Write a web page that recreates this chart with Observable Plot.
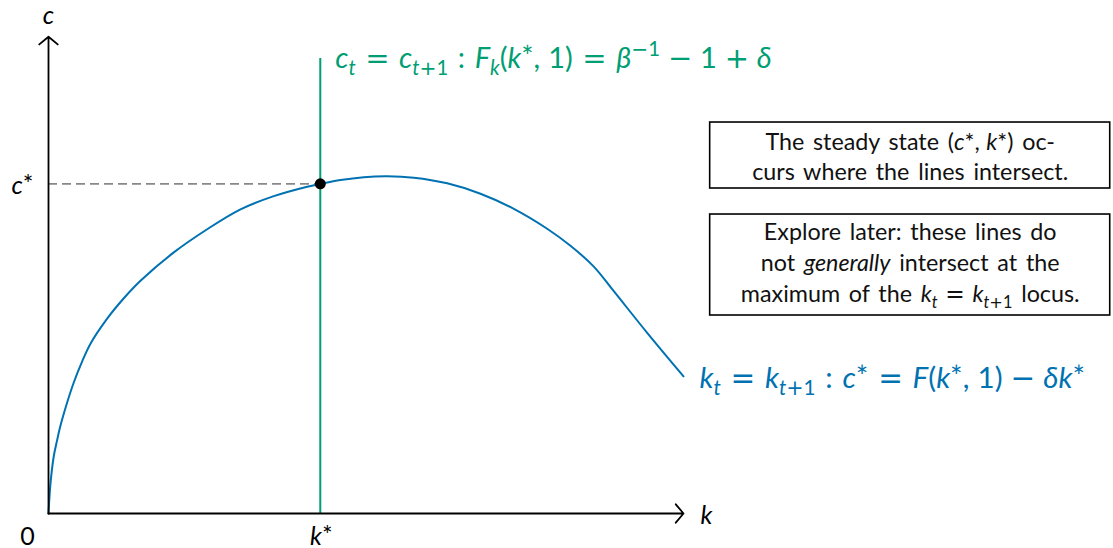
<!DOCTYPE html>
<html>
<head>
<meta charset="utf-8">
<script src="https://cdn.jsdelivr.net/npm/d3@7"></script>
<script src="https://cdn.jsdelivr.net/npm/@observablehq/plot@0.6"></script>
<style>
  html, body { margin: 0; padding: 0; background: #fff; }
  svg text { white-space: pre; word-spacing: 0.12em; }
</style>
</head>
<body>
<div id="chart"></div>
<script>
// The k_t = k_{t+1} locus, c = F(k,1) − δk, sampled along k
const locusK = [0, 0.031, 0.083, 0.134, 0.189, 0.283, 0.398, 0.529, 0.661, 0.924, 1.186, 1.449, 1.973, 2.499, 3.024, 3.548, 4.074, 4.283, 4.598, 4.965, 5.334, 5.753, 6.279, 6.803, 7.328, 7.853, 8.220, 8.587, 8.902, 9.428, 10.0];
const locusC = [0, 0.63, 1.21, 1.54, 1.86, 2.30, 2.77, 3.21, 3.59, 4.12, 4.55, 4.92, 5.52, 6.01, 6.43, 6.71, 6.91, 6.97, 7.05, 7.11, 7.13, 7.10, 6.98, 6.76, 6.44, 6.02, 5.66, 5.22, 4.70, 3.82, 2.90];

// Steady state and the c_t = c_{t+1} locus (vertical at k*)
const kStar = 4.28;
const cStar = 6.97;
const cLocusTop = 9.62;

// Axis extents
const kMax = 10;
const cMax = 10.08;

// Labels (TeX-like: $…$ math, _ sub, ^ sup, \emph{…} italic, | new line)
const cLocusLabel = "$c_t = c_{t+1} : F_k(k^*, 1) = \\beta^{-1} - 1 + \\delta$";
const kLocusLabel = "$k_t = k_{t+1} : c^* = F(k^*, 1) - \\delta k^*$";
const notes = [
  "The steady state $(c^*, k^*)$ oc-|curs where the lines intersect.",
  "Explore later: these lines do|not \\emph{generally} intersect at the|maximum of the $k_t = k_{t+1}$ locus."
];

const BLUE = "#0072B2";
const GREEN = "#009E73";
const FONT = "Lato, 'Liberation Sans', sans-serif";
const OP_FONT = "'DejaVu Sans', sans-serif";

const locus = locusK.map((k, i) => ({k, c: locusC[i]}));

const plot = Plot.plot({
  width: 1113,
  height: 548,
  marginLeft: 48,
  marginRight: 430,
  marginTop: 40,
  marginBottom: 35,
  x: {domain: [0, 10], axis: null},
  y: {domain: [0, 10], axis: null},
  style: {fontFamily: FONT, background: "#fff", overflow: "visible", color: "#000"},
  marks: [
    Plot.ruleY([cStar], {x1: 0, x2: kStar, stroke: "#888", strokeWidth: 1.7, strokeDasharray: "9,5"}),
    Plot.ruleX([kStar], {y1: 0, y2: cLocusTop, stroke: GREEN, strokeWidth: 2}),
    Plot.line(locus, {x: "k", y: "c", stroke: BLUE, strokeWidth: 2, curve: "catmull-rom"}),
    Plot.arrow([{x1: 0, y1: 0, x2: kMax, y2: 0}, {x1: 0, y1: 0, x2: 0, y2: cMax}], {
      x1: "x1", y1: "y1", x2: "x2", y2: "y2",
      stroke: "#000", strokeWidth: 1.8, headAngle: 100, headLength: 10
    }),
    Plot.dot([{k: kStar, c: cStar}], {x: "k", y: "c", r: 5.5, fill: "#000"}),

    // Note boxes
    Plot.rect([0], {x1: 10.42, x2: 16.72, y1: 6.871, y2: 8.266, fill: "#fff", stroke: "#000", strokeWidth: 1.6}),
    Plot.rect([0], {x1: 10.42, x2: 16.72, y1: 4.186, y2: 6.321, fill: "#fff", stroke: "#000", strokeWidth: 1.6}),
    Plot.text([notes[0]], {x: 13.57, y: 7.526, text: d => d, fontSize: 23.3, textAnchor: "middle", fill: "#111"}),
    Plot.text([notes[1]], {x: 13.57, y: 5.285, text: d => d, fontSize: 23.3, textAnchor: "middle", fill: "#111"}),

    // Locus labels
    Plot.text([cLocusLabel], {x: kStar, y: cLocusTop, text: d => d, dx: 15, dy: 0, fontSize: 29, textAnchor: "start", fill: GREEN}),
    Plot.text([kLocusLabel], {x: kMax, y: locusC[locusC.length - 1], text: d => d, dx: 16, dy: 2, fontSize: 29.5, textAnchor: "start", fill: BLUE}),

    // Axis labels
    Plot.text(["$c$"], {x: 0, y: cMax, text: d => d, dy: -21, fontSize: 25, textAnchor: "middle"}),
    Plot.text(["$k$"], {x: kMax, y: 0, text: d => d, dx: 17, dy: 2, fontSize: 25, textAnchor: "start"}),
    Plot.text(["$c^*$"], {x: 0, y: cStar, text: d => d, dx: -15, dy: 2, fontSize: 25, textAnchor: "end"}),
    Plot.text(["0"], {x: 0, y: 0, text: d => d, dx: -21, dy: 23, fontSize: 25, textAnchor: "middle"}),
    Plot.text(["$k^*$"], {x: kStar, y: 0, text: d => d, dx: 1, dy: 23, fontSize: 25, textAnchor: "middle"})
  ]
});

// ---- rich text: turn the TeX-like label strings into styled tspans ----
const SVGNS = "http://www.w3.org/2000/svg";
const SYMBOLS = {"\\beta": "β", "\\delta": "δ"};
const REL = new Set(["=", ":"]);
const BIN = new Set(["+", "\u2212"]);
const WIDE_OPS = new Set(["=", "+", "\u2212"]);

function parseRich(src) {
  const segs = [];
  let gap = 0; // pending horizontal space, em
  const push = (t, it, lvl, op = false) => {
    const last = segs[segs.length - 1];
    if (!gap && last && last.it === it && last.lvl === lvl && last.op === op && lvl !== "star") last.t += t;
    else segs.push({t, it, lvl, op, gap});
    gap = 0;
  };
  const isLetter = ch => /[A-Za-zβδ]/.test(ch);
  function emitMath(s, lvl) {
    let i = 0;
    while (i < s.length) {
      let ch = s[i];
      if (ch === " ") { i++; continue; }
      if (ch === "\\") {
        const m = s.slice(i).match(/^\\[a-z]+/);
        push(SYMBOLS[m[0]], true, lvl);
        i += m[0].length;
        continue;
      }
      if (ch === "_" || ch === "^") {
        const l = ch === "_" ? "sub" : "sup";
        i++;
        let g;
        if (s[i] === "{") {
          let depth = 1, j = i + 1;
          while (depth) { if (s[j] === "{") depth++; else if (s[j] === "}") depth--; j++; }
          g = s.slice(i + 1, j - 1);
          i = j;
        } else g = s[i++];
        if (l === "sup" && g === "*") push("*", false, "star");
        else emitMath(g, l);
        continue;
      }
      if (ch === "-") ch = "\u2212";
      const op = WIDE_OPS.has(ch);
      const display = !lvl;
      if (display && REL.has(ch)) { gap += 0.33; push(ch, false, lvl, op); gap += 0.33; }
      else if (display && BIN.has(ch)) { gap += 0.27; push(ch, false, lvl, op); gap += 0.27; }
      else if (ch === ",") { push(ch, false, lvl); gap += 0.28; }
      else push(ch, isLetter(ch), lvl, op);
      i++;
    }
  }
  let i = 0;
  while (i < src.length) {
    if (src[i] === "$") {
      const j = src.indexOf("$", i + 1);
      emitMath(src.slice(i + 1, j), 0);
      i = j + 1;
    } else if (src.startsWith("\\emph{", i)) {
      const j = src.indexOf("}", i);
      push(src.slice(i + 6, j), true, 0);
      i = j + 1;
    } else {
      push(src[i], false, 0);
      i++;
    }
  }
  return segs;
}

const LEVELS = {
  sub: {shift: 0.24, size: 0.7},
  sup: {shift: -0.4, size: 0.7},
  star: {shift: -0.02, size: 1.0}
};

function renderRich(textEl) {
  const src = textEl.textContent;
  const fs = parseFloat(textEl.closest("g").getAttribute("font-size")) || 25;
  const lines = src.split("|");
  const n = lines.length;
  const lh = n > 1 ? (n === 2 ? 30 : 31) / fs : 1.2;
  textEl.textContent = "";
  textEl.removeAttribute("y");
  lines.forEach((line, j) => {
    const lt = document.createElementNS(SVGNS, "tspan");
    lt.setAttribute("x", 0);
    lt.setAttribute("y", ((j - (n - 1) / 2) * lh + 0.32) * fs);
    let cur = 0;
    for (const seg of parseRich(line)) {
      const ts = document.createElementNS(SVGNS, "tspan");
      const lv = LEVELS[seg.lvl];
      const target = lv ? lv.shift * fs : 0;
      if (target !== cur) { ts.setAttribute("dy", target - cur); cur = target; }
      if (seg.gap) ts.setAttribute("dx", seg.gap * fs);
      if (seg.it) ts.setAttribute("font-style", "italic");
      if (seg.op) ts.setAttribute("font-family", OP_FONT);
      if (lv) ts.setAttribute("font-size", lv.size * fs);
      ts.textContent = seg.t;
      lt.appendChild(ts);
    }
    textEl.appendChild(lt);
  });
}

plot.querySelectorAll("text").forEach(renderRich);
document.getElementById("chart").appendChild(plot);

// Anchor each line from its rendered width (so dx gaps are counted)
plot.querySelectorAll("text").forEach(textEl => {
  const anchor = getComputedStyle(textEl).textAnchor;
  if (anchor !== "middle" && anchor !== "end") return;
  textEl.setAttribute("text-anchor", "start");
  for (const lt of textEl.children) {
    const w = lt.getBoundingClientRect().width;
    lt.setAttribute("x", anchor === "middle" ? -w / 2 : -w);
  }
});
</script>
</body>
</html>
